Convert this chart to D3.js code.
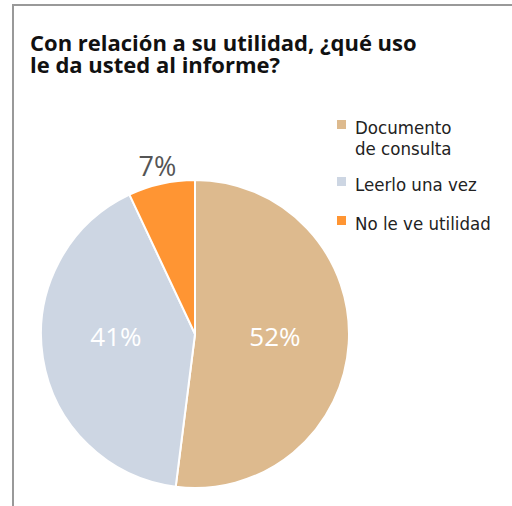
<!DOCTYPE html>
<html><head><meta charset="utf-8">
<script src="https://cdn.jsdelivr.net/npm/d3@7"></script>
<style>html,body{margin:0;padding:0;background:#fff;}svg{display:block;}</style>
</head><body>
<svg id="chart" width="512" height="506"></svg>
<script>
const titleLines = ["Con relación a su utilidad, ¿qué uso", "le da usted al informe?"];
const categories = ["Documento de consulta", "Leerlo una vez", "No le ve utilidad"];
const legendLabels = [["Documento", "de consulta"], ["Leerlo una vez"], ["No le ve utilidad"]];
const values = [52, 41, 7];
const valueLabels = ["52%", "41%", "7%"];
const colors = ["#DDBA8E", "#CDD6E3", "#FF9533"];

const svg = d3.select("#chart");
const font = "'Open Sans', sans-serif";
const narrow = "'DejaVu Sans Condensed', 'Open Sans', sans-serif";

// frame
svg.append("path").attr("d", "M13,520 L13,5 L520,5").attr("fill", "none")
  .attr("stroke", "#999").attr("stroke-width", 2);

// title
titleLines.forEach((t, i) => svg.append("text").attr("x", 30).attr("y", 51 + i * 22)
  .attr("font-family", font).attr("font-weight", "bold").attr("font-size", 22)
  .attr("fill", "#111").text(t));

// pie
const cx = 195, cy = 334, r = 154;
const pie = d3.pie().sort(null).value(d => d)(values);
const arc = d3.arc().innerRadius(0).outerRadius(r);
const g = svg.append("g").attr("transform", `translate(${cx},${cy})`);
g.selectAll("path").data(pie).join("path")
  .attr("d", arc).attr("fill", (d, i) => colors[i])
  .attr("stroke", "#fff").attr("stroke-width", 2).attr("stroke-linejoin", "round");

const inner = d3.arc().innerRadius(r * 0.52).outerRadius(r * 0.52);
const outer = d3.arc().innerRadius(r + 18).outerRadius(r + 18);
g.selectAll("text").data(pie).join("text")
  .attr("transform", d => {
    if (d.data < 10) { const c = outer.centroid(d); return `translate(${c[0]},${c[1]})`; }
    const c = inner.centroid(d);
    return `translate(${c[0]},3)`;
  })
  .attr("text-anchor", "middle").attr("dy", "0.35em")
  .attr("font-family", font)
  .attr("font-size", d => d.data < 10 ? 27 : 26)
  .attr("fill", d => d.data < 10 ? "#555" : "#fff")
  .text((d, i) => valueLabels[i]);

// legend
const legendY = [134, 191, 230];
const lg = svg.append("g");
categories.forEach((c, i) => {
  lg.append("rect").attr("x", 337).attr("y", legendY[i] - 14).attr("width", 9).attr("height", 9).attr("fill", colors[i]);
  legendLabels[i].forEach((l, j) => lg.append("text").attr("x", 355).attr("y", legendY[i] + j * 21)
    .attr("font-family", narrow).attr("font-size", 18.5).attr("fill", "#222").text(l));
});
</script>
</body></html>
